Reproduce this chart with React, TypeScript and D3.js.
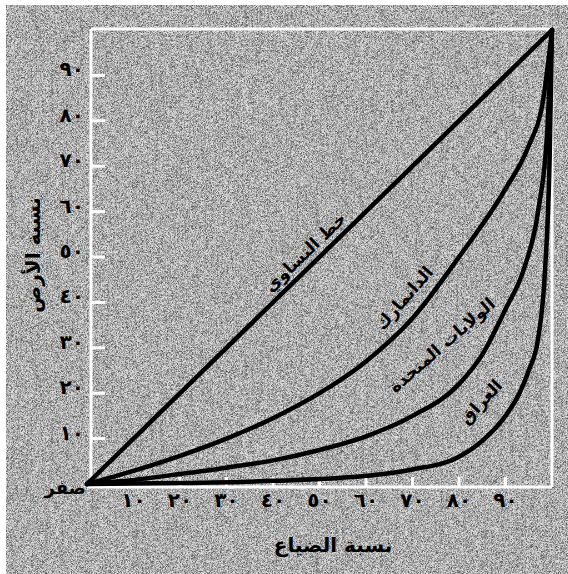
import React from "react";
import * as d3 from "d3";

// share of estates (%) vs share of land (%) - Lorenz curves
const equalityX = [0, 100];
const equalityY = [0, 100];

const denmarkX = [0, 10, 20, 30, 40, 50, 60, 70, 80, 90, 95, 98, 100];
const denmarkY = [0, 2.9, 6.2, 10, 14.5, 20, 27, 36.5, 50, 65, 74.5, 84, 100];

const usaX = [0, 10, 20, 30, 40, 50, 60, 70, 80, 85, 90, 94, 97, 99, 100];
const usaY = [0, 0.9, 2.2, 3.6, 5.2, 7.5, 10.5, 15, 22, 28.5, 38.5, 47.5, 60, 78, 100];

const iraqX = [0, 20, 40, 60, 70, 80, 85, 90, 93, 95, 97, 98.5, 99.5, 100];
const iraqY = [0, 0.2, 0.7, 1.8, 3.2, 6, 9.5, 15, 20, 25, 32, 47, 72, 100];

const tickValues = [10, 20, 30, 40, 50, 60, 70, 80, 90];
const tickLabels = ["١٠", "٢٠", "٣٠", "٤٠", "٥٠", "٦٠", "٧٠", "٨٠", "٩٠"];
const zeroLabel = "صفر";

const xTitle = "نسبة الضياع";
const yTitle = "نسبة الأرض";

// curve labels: text, position in data units, angle
const curveLabels = [
  { text: "خط التساوي", x: 46.9, y: 51.1, angle: -44 },
  { text: "الدانمارك", x: 68.2, y: 41, angle: -49 },
  { text: "الولايات المتحدة", x: 76.3, y: 30.6, angle: -41 },
  { text: "العراق", x: 84.7, y: 18.1, angle: -47 },
];

const W = 568;
const H = 574;
const FONT = "'DejaVu Sans', sans-serif";

export default function App() {
  const x = d3.scaleLinear().domain([0, 100]).range([87, 552]);
  const y = d3.scaleLinear().domain([0, 100]).range([484, 30]);

  const line = d3
    .line<[number, number]>()
    .x((d) => x(d[0]))
    .y((d) => y(d[1]))
    .curve(d3.curveMonotoneX);

  const series = [
    [equalityX, equalityY],
    [denmarkX, denmarkY],
    [usaX, usaY],
    [iraqX, iraqY],
  ].map(([xs, ys]) => xs.map((v, i) => [v, ys[i]] as [number, number]));

  const left = 91;
  const top = 29;
  const right = 552;
  const bottom = 487;

  return (
    <svg
      width={W}
      height={H}
      style={{ position: "absolute", left: 0, top: 0, display: "block" }}
    >
      <defs>
        <filter id="grain" x="0" y="0" width="100%" height="100%" colorInterpolationFilters="sRGB">
          <feTurbulence type="fractalNoise" baseFrequency="2.2" numOctaves="1" seed="4" />
          <feColorMatrix
            type="matrix"
            values="2.2 0 0 0 -0.42  2.2 0 0 0 -0.42  2.2 0 0 0 -0.42  0 0 0 0 1"
          />
        </filter>
      </defs>
      <rect width={W} height={H} fill="#fff" />
      <rect x={6} y={5} width={W - 6} height={H - 5} fill="#ababab" />
      <rect x={6} y={5} width={W - 6} height={H - 5} filter="url(#grain)" opacity={0.6} />

      {/* white frame */}
      <g stroke="#fff" strokeWidth={3} fill="none">
        <line x1={left} y1={top} x2={right} y2={top} />
        <line x1={left} y1={top} x2={left} y2={bottom} />
        <line x1={right} y1={top} x2={right} y2={bottom} />
        <line x1={x(0)} y1={bottom} x2={right} y2={bottom} />
        {tickValues.map((t) => (
          <line key={"yt" + t} x1={left} y1={y(t)} x2={left + 14} y2={y(t)} />
        ))}
        {tickValues.map((t) => (
          <line key={"xt" + t} x1={x(t)} y1={bottom} x2={x(t)} y2={bottom - 10} />
        ))}
      </g>

      {/* curves */}
      <g fill="none" stroke="#000" strokeWidth={4.5} strokeLinejoin="round" strokeLinecap="round">
        {series.map((s, i) => (
          <path key={i} d={line(s) || ""} />
        ))}
      </g>

      {/* tick labels */}
      <g fontFamily={FONT} fontWeight="bold" fontSize={20} fill="#000">
        {tickValues.map((t, i) => (
          <text key={"yl" + t} x={84} y={y(t) + 1} textAnchor="end">
            {tickLabels[i]}
          </text>
        ))}
        {tickValues.map((t, i) => (
          <text key={"xl" + t} x={x(t)} y={507} textAnchor="middle">
            {tickLabels[i]}
          </text>
        ))}
        <text x={86} y={494} textAnchor="end" fontSize={18}>
          {zeroLabel}
        </text>
      </g>

      {/* axis titles */}
      <g fontFamily={FONT} fontWeight="bold" fontSize={20} fill="#000">
        <text x={333} y={552} textAnchor="middle">
          {xTitle}
        </text>
        <text transform={`translate(40,255) rotate(-90)`} textAnchor="middle">
          {yTitle}
        </text>
      </g>

      {/* curve labels */}
      <g fontFamily={FONT} fontWeight="bold" fontSize={17} fill="#000">
        {curveLabels.map((l) => (
          <text
            key={l.text}
            transform={`translate(${x(l.x)},${y(l.y)}) rotate(${l.angle})`}
            textAnchor="middle"
            dominantBaseline="central"
          >
            {l.text}
          </text>
        ))}
      </g>
    </svg>
  );
}
